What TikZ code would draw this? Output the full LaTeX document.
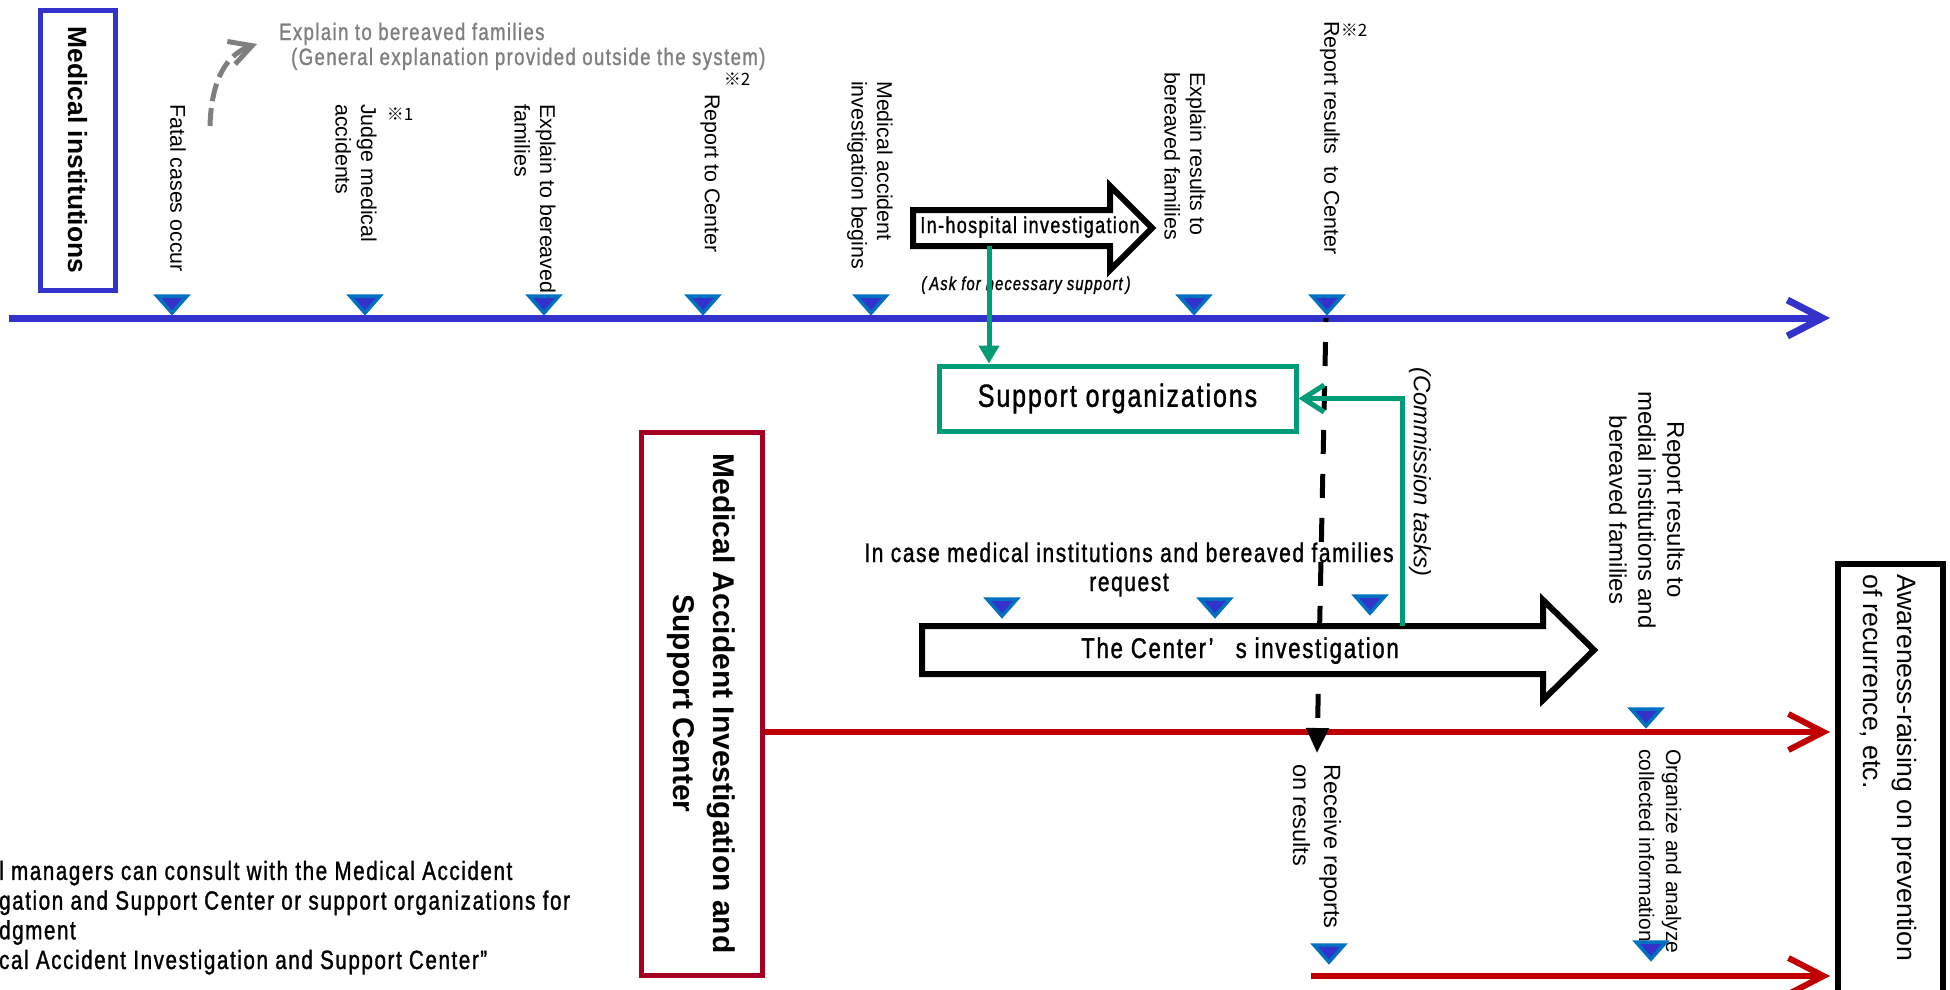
\documentclass[tikz,border=0pt]{standalone}
\usepackage{fontspec}
\setmainfont{Liberation Sans}
\newfontfamily\cnd[FakeStretch=0.78,LetterSpace=6,FakeBold=1.2]{Liberation Sans}
\newfontfamily\cjk{Noto Sans CJK JP}
\usetikzlibrary{arrows.meta}
\definecolor{cblue}{HTML}{3333CC}
\definecolor{cred}{HTML}{C00000}
\definecolor{cboxred}{HTML}{A50021}
\definecolor{cgreen}{HTML}{009B77}
\definecolor{ctri}{HTML}{0070C0}
\definecolor{cgray}{HTML}{7F7F7F}
\newcommand\fs[2]{\fontsize{#1pt}{#2pt}\selectfont}
\begin{document}
\begin{tikzpicture}[x=1pt,y=-1pt,
  vlab/.style={rotate=-90,anchor=west,inner sep=0pt,align=left,font=\fs{21.4}{25.5}},
  mk/.pic={\draw[line width=3.5pt,draw=ctri,fill=cblue,line join=miter] (-15,-17) -- (15,-17) -- (0,0) -- cycle;},
  chev/.style={-{Straight Barb[length=35pt,width=36pt]}},
  bigarrow/.style={draw=black,fill=white,line width=6pt,line join=miter},
  cndtext/.style={inner sep=0pt,anchor=base},
  note/.style={font=\cjk\fs{17}{17},inner sep=0pt}
]
\useasboundingbox (0,0) rectangle (1950,989);
\clip (0,0) rectangle (1950,989);

% gray explanation (base = last line)
\node[anchor=base west,inner sep=0pt,align=left,text=cgray,font=\cnd\fs{23.7}{25}] (gtx) at (279,65)
  {Explain to bereaved families\\\hspace*{12pt}(General explanation provided outside the system)};
\coordinate (g0) at (210,126);
\coordinate (g1) at (257,44);
\draw[cgray,line width=5pt,dash pattern=on 18pt off 7pt,-{Straight Barb[length=22pt,width=24pt]}]
  (g0) .. controls (211,88) and (222,56) .. (g1);

% medical institutions
\node[draw=cblue,line width=5pt,rotate=-90,minimum width=280pt,minimum height=75pt,inner sep=0pt,
  font=\bfseries\fs{26.4}{30}] (mi) at (77.5,150) {Medical institutions};

% blue timeline
\coordinate (b0) at (9,318);
\coordinate (b1) at (1830,318);
\draw[cblue,line width=7pt,chev] (b0) -- (b1);

% top labels
\node[vlab] (l1) at (178,104) {Fatal cases occur};
\node[vlab] (l2) at (356,104) {Judge medical\\accidents};
\node[vlab] (l3) at (535,104) {Explain to bereaved\\families};
\node[vlab] (l4) at (710,94) {Report to Center};
\node[vlab] (l5) at (870,81) {Medical accident\\investigation begins};
\node[vlab] (l6) at (1185,72) {Explain results to\\bereaved families};
\node[vlab] (l7) at (1330,21) {Report results\ \ to Center};
\node[note] (n1) at (400,114) {※1};
\node[note] (n2) at (737,79) {※2};
\node[note] (n3) at (1354,30) {※2};

% in-hospital investigation arrow
\draw[bigarrow] (913,210) -- (1110,210) -- (1110,186) -- (1152,228) -- (1110,270) -- (1110,246) -- (913,246) -- cycle;
\node[cndtext,font=\cnd\fs{23}{24}] (ih) at (1030,233) {In-hospital investigation};
\node[cndtext,font=\cnd\itshape\fs{18.8}{20}] (ask) at (1026,290) {(\,Ask for necessary support\,)};

% markers on blue line
\pic (m1) at (172,313) {mk};
\pic (m2) at (365,313) {mk};
\pic (m3) at (544,313) {mk};
\pic (m4) at (703,313) {mk};
\pic (m5) at (871,313) {mk};
\pic (m6) at (1194,313) {mk};

% support organizations
\node[draw=cgreen,line width=5pt,minimum width=357pt,minimum height=65pt,inner sep=0pt,
  font=\cnd\fs{32}{32}] (sup) at (1117.5,398.5) {Support organizations};

% center box
\node[draw=cboxred,line width=5pt,rotate=-90,minimum width=543pt,minimum height=121pt,inner sep=0pt,
  align=center,font=\bfseries\fs{30}{40}] (ctr) at (701.5,703.5) {Medical Accident Investigation and\\Support Center};

% red timelines
\coordinate (r1e) at (1830,732);
\coordinate (r2s) at (1311,976);
\coordinate (r2e) at (1830,976);
\draw[cred,line width=6pt,chev] (ctr.north |- r1e) -- (r1e);
\draw[cred,line width=6pt,chev] (r2s) -- (r2e);

% dashed report line
\coordinate (d0) at (1326,318);
\coordinate (d1) at (1317,753);
\draw[black,line width=5pt,dash pattern=on 24pt off 20pt,dash phase=20pt,-{Triangle[length=25pt,width=22pt]}] (d0) -- (d1);

% center's investigation arrow
\draw[bigarrow] (922,626) -- (1543,626) -- (1543,600) -- (1594,650) -- (1543,700) -- (1543,674) -- (922,674) -- cycle;
\node[cndtext,font=\cnd\fs{28.5}{30}] (ci) at (1240,658) {The Center’\hspace{0.5em} s investigation};
\node[cndtext,align=center,font=\cnd\fs{26.8}{29}] (req) at (1129,591) {In case medical institutions and bereaved families\\request};

% green connectors
\coordinate (ihb) at (989,246);
\draw[cgreen,line width=5pt,-{Triangle[length=18pt,width=20pt]}] (ihb) -- (ihb |- sup.north);
\coordinate (cmb) at (1402,626);
\draw[cgreen,line width=5pt,-{Straight Barb[length=21pt,width=27pt]}] (cmb) |- (sup.east);
\node[rotate=-90,anchor=west,inner sep=0pt,font=\itshape\fs{23.8}{26}] (com) at (1420,367) {(Commission tasks)};

% markers on center's line
\pic (m7) at (1327,313) {mk};
\pic (m8) at (1002,616) {mk};
\pic (m9) at (1215,616) {mk};
\pic (m10) at (1370,613) {mk};
\pic (m11) at (1646,726) {mk};

% lower right labels
\node[rotate=-90,anchor=center,inner sep=0pt,align=center,font=\fs{24}{29}] (l8) at (1647,510)
  {Report results to\\medial institutions and\\bereaved families};
\node[rotate=-90,anchor=west,inner sep=0pt,align=left,font=\fs{23.5}{31}] (l9) at (1317,764) {Receive reports\\on results};
\node[rotate=-90,anchor=west,inner sep=0pt,align=left,font=\fs{21}{27}] (l10) at (1660,749) {Organize and analyze\\collected information};
\pic (m12) at (1329,962) {mk};
\pic (m13) at (1651,959) {mk};

% awareness box
\node[draw=black,line width=6pt,minimum width=105pt,minimum height=500pt,anchor=north west,inner sep=0pt] (aw) at (1835,561) {};
\node[rotate=-90,anchor=west,inner sep=0pt,align=left,font=\fs{26.6}{34}] (awt) at (1888,574)
  {Awareness-raising on prevention\\of recurrence, etc.};

% footnotes (base = last line)
\node[anchor=base west,inner sep=0pt,align=left,font=\cnd\fs{26.4}{29.7}] (fn) at (-1,969)
  {l managers can consult with the Medical Accident\\gation and Support Center or support organizations for\\dgment\\cal Accident Investigation and Support Center”};
\end{tikzpicture}
\end{document}
